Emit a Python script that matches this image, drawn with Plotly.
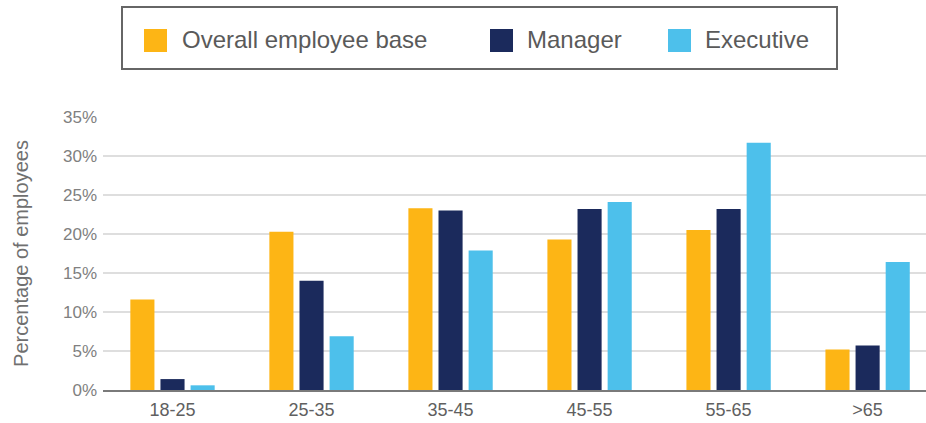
import plotly.graph_objects as go

# ---- data ----
age_groups = ["18-25", "25-35", "35-45", "45-55", "55-65", ">65"]
series_names = ["Overall employee base", "Manager", "Executive"]
overall = [11.6, 20.3, 23.3, 19.3, 20.5, 5.2]
manager = [1.4, 14.0, 23.0, 23.2, 23.2, 5.7]
executive = [0.6, 6.9, 17.9, 24.1, 31.7, 16.4]
y_ticks = [0, 5, 10, 15, 20, 25, 30, 35]
y_tick_labels = [f"{v}%" for v in y_ticks]

colors = ["#FDB515", "#1B2A5C", "#4DC0EB"]
values = [overall, manager, executive]

W, H = 926, 423
L, R, T, B = 103, 0, 117, 33
plot_w = W - L - R
plot_h = H - T - B

fig = go.Figure()
for name, vals, col in zip(series_names, values, colors):
    fig.add_trace(go.Bar(
        x=age_groups, y=vals, name=name,
        marker=dict(color=col, line=dict(width=0)),
        showlegend=False,
        hovertemplate="%{x}: %{y}%<extra>" + name + "</extra>",
    ))

def px2x(px):
    return (px - L) / plot_w

def py2y(py):
    return (H - B - py) / plot_h

shapes = []
annotations = []
# custom legend box
shapes.append(dict(type="rect", xref="paper", yref="paper",
                   x0=px2x(122), x1=px2x(837), y0=py2y(69), y1=py2y(7),
                   line=dict(color="#666666", width=2), fillcolor="white", layer="above"))
sq_x = [144, 490, 668]
txt_x = [180, 525, 703]
for name, col, sx, tx in zip(series_names, colors, sq_x, txt_x):
    shapes.append(dict(type="rect", xref="paper", yref="paper",
                       x0=px2x(sx), x1=px2x(sx + 23), y0=py2y(52), y1=py2y(29),
                       line=dict(width=0), fillcolor=col, layer="above"))
    annotations.append(dict(xref="paper", yref="paper", x=px2x(tx), y=py2y(40),
                            text=name, showarrow=False, xanchor="left", yanchor="middle",
                            font=dict(family="Liberation Sans, Arial, sans-serif", size=24, color="#5a5a5a")))

fig.update_layout(
    width=W, height=H,
    margin=dict(l=L, r=R, t=T, b=B, autoexpand=False),
    paper_bgcolor="white", plot_bgcolor="white",
    barmode="group", bargap=0.35, bargroupgap=0.2,
    font=dict(family="Liberation Sans, Arial, sans-serif", color="#666666"),
    shapes=shapes, annotations=annotations,
    xaxis=dict(
        range=[-0.5, 5.42], showgrid=False,
        showline=True, linecolor="#7a7a7a", linewidth=2,
        ticks="", tickfont=dict(size=18, color="#606060"),
        ticklabelstandoff=2,
        automargin=False,
    ),
    yaxis=dict(
        range=[0, 35], tickvals=y_ticks, ticktext=y_tick_labels,
        showgrid=True, gridcolor="#dedede", gridwidth=2,
        zeroline=False, showline=False, ticks="",
        tickfont=dict(size=17, color="#808080"),
        ticklabelstandoff=5,
        title=dict(text="Percentage of employees", standoff=28,
                   font=dict(size=20, color="#707070")),
        automargin=False,
    ),
)

fig.write_html("out.html")
